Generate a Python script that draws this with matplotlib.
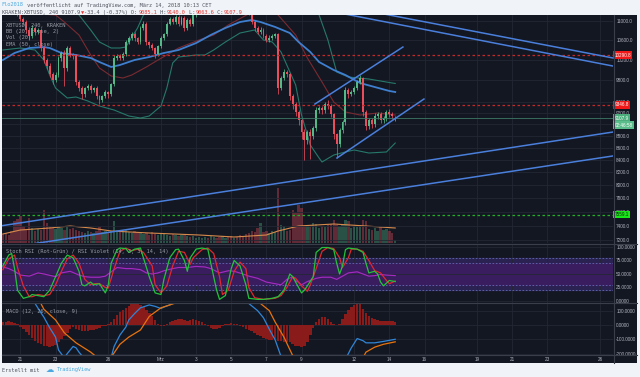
import numpy as np
import matplotlib
matplotlib.use("Agg")
import matplotlib.pyplot as plt
from matplotlib.transforms import blended_transform_factory
from matplotlib.patches import Rectangle
from matplotlib.lines import Line2D
from matplotlib.ticker import NullLocator, FixedLocator, FixedFormatter

# ---------------------------------------------------------------- data
first_time = "2018-02-20T00:00"          # first 4h candle
first_open = 11600
last_open = 9085.1
closes = [
    11520, 11450, 11380, 11300, 11240, 11150, 11037, 10972, 10802, 10675,
    10843, 10759, 10802, 10428, 10190, 10070, 9915, 9802, 9896, 10228,
    10328, 10031, 10428, 10288, 10268, 9763, 9650, 9538, 9650, 9688,
    9613, 9650, 9501, 9428, 9501, 9575, 9538, 9725, 10228, 10268,
    10228, 10308, 10552, 10633, 10717, 10633, 10552, 10843, 10929, 10552,
    10490, 10428, 10308, 10470, 10633, 10717, 10929, 11037, 10972, 11080,
    10929, 11059, 10843, 11015, 10929, 11124, 11250, 11320, 11400, 11460,
    11390, 11480, 11540, 11470, 11420, 11500, 11580, 11530, 11450, 11490,
    11410, 11350, 11290, 11200, 11150, 10972, 10843, 10759, 10802, 10675,
    10594, 10633, 10675, 10717, 9650, 9838, 9955, 9915, 9501, 9355,
    9211, 9069, 8860, 8724, 8860, 8792, 8930, 9247, 9282, 9247,
    9355, 9318, 9175, 8826, 8656, 8895, 9034, 9613, 9538, 9575,
    9650, 9763, 9838, 9211, 8965, 9069, 9000, 9140, 9175, 9069,
    9106, 9211, 9175, 9141.3, 9107.9]
wick_up = [
    80, 60, 70, 60, 50, 60, 50, 40, 50, 60,
    60, 50, 40, 40, 50, 40, 60, 40, 60, 50,
    40, 60, 50, 40, 40, 50, 40, 40, 30, 40,
    40, 30, 40, 30, 30, 40, 30, 30, 60, 40,
    50, 40, 50, 40, 40, 40, 30, 40, 60, 40,
    30, 40, 30, 30, 40, 30, 40, 40, 40, 30,
    40, 40, 30, 40, 40, 40, 50, 50, 40, 40,
    40, 40, 50, 40, 50, 50, 40, 40, 50, 40,
    40, 40, 40, 40, 60, 40, 50, 40, 60, 40,
    40, 60, 40, 30, 20, 40, 70, 40, 30, 40,
    50, 40, 30, 60, 40, 60, 40, 60, 40, 50,
    50, 80, 40, 30, 20, 40, 40, 60, 50, 40,
    50, 40, 60, 30, 40, 50, 50, 60, 40, 40,
    40, 50, 60, 40, 32.1]
wick_dn = [
    60, 60, 50, 50, 60, 60, 50, 60, 60, 80,
    40, 60, 40, 60, 60, 50, 60, 80, 40, 40,
    50, 330, 60, 40, 60, 60, 60, 80, 50, 40,
    60, 40, 50, 60, 40, 40, 60, 40, 40, 40,
    40, 40, 40, 30, 40, 50, 40, 30, 40, 60,
    50, 40, 80, 40, 30, 40, 40, 30, 40, 40,
    40, 30, 60, 40, 50, 40, 40, 40, 50, 40,
    40, 40, 40, 40, 40, 50, 40, 40, 40, 40,
    40, 40, 40, 50, 40, 40, 60, 40, 40, 50,
    40, 40, 40, 40, 100, 40, 40, 60, 60, 80,
    60, 80, 120, 320, 60, 380, 40, 40, 50, 60,
    40, 40, 50, 80, 230, 40, 40, 40, 60, 40,
    40, 40, 40, 60, 70, 50, 60, 40, 40, 50,
    40, 40, 50, 40, 21.5]
volumes = [
    900, 1000, 800, 1200, 2200, 2400, 2700, 1700, 1300, 2500,
    1500, 1200, 1400, 1300, 3300, 2000, 1600, 1500, 1400, 1700,
    1500, 1300, 1600, 1400, 1500, 1300, 1200, 1100, 1000, 1200,
    1100, 1000, 1200, 1600, 1100, 1200, 1000, 1200, 2200, 1300,
    1100, 1200, 1300, 1100, 1000, 1200, 1100, 1000, 900, 1000,
    800, 1100, 900, 800, 1000, 900, 800, 700, 900, 800,
    700, 800, 900, 700, 600, 700, 500, 600, 500, 600,
    500, 700, 600, 500, 600, 700, 500, 600, 700, 500,
    600, 800, 700, 900, 1000, 1200, 1100, 1500, 2000, 1100,
    1200, 1000, 1200, 1100, 5500, 1800, 1700, 1200, 1300, 3300,
    3000, 3800, 3500, 1700, 1800, 1600, 2000, 1900, 1500, 1700,
    1600, 1800, 1900, 2300, 1800, 1700, 1800, 2300, 2200, 1500,
    1700, 1600, 1800, 2300, 2200, 1400, 1300, 1500, 1200, 1600,
    1300, 1400, 1200, 1000, 300]
macd_hist = [
    20, 22, 25, 20, 15, 5, -15, -30, -50, -70,
    -90, -110, -125, -135, -145, -150, -155, -150, -140, -120,
    -100, -80, -55, -30, -15, -25, -35, -40, -42, -40,
    -38, -35, -30, -20, -10, -5, 5, 20, 45, 70,
    90, 105, 120, 135, 145, 150, 150, 140, 125, 105,
    85, 60, 35, 10, -8, -10, 5, 20, 30, 38,
    42, 40, 35, 30, 35, 40, 38, 30, 20, 5,
    -10, -20, -28, -30, -22, -10, 5, 10, 12, 10,
    5, -5, -15, -25, -35, -45, -55, -70, -80, -90,
    -100, -105, -105, -100, -110, -115, -120, -118, -120, -130,
    -145, -150, -155, -150, -120, -70, -20, 20, 40, 55,
    55, 40, 20, 5, 2, 10, 40, 80, 105, 125,
    140, 150, 145, 115, 85, 65, 50, 40, 35, 30,
    28, 28, 30, 28, 22]

# indicator lines (candle index, value)
bb_up_idx = [0, 10, 20, 26, 30, 33, 37, 40, 42, 46, 48, 55, 65, 75, 85, 95, 102, 108, 111, 114, 118, 125, 133, 134]
bb_up_val = [12100, 11950, 11600, 11119, 10801, 10553, 10431, 10431, 10451, 10842, 11119, 11500, 11700, 11800,
             11750, 11600, 11400, 11119, 10594, 9958, 9862, 9824, 9748, 9740]
bb_mid_idx = [0, 10, 18, 21, 26, 30, 33, 37, 41, 44, 49, 53, 56, 60, 67, 72, 77, 82, 85, 90, 94, 100, 104,
              109, 113, 117, 122, 128, 134]
bb_mid_val = [11245, 11150, 11119, 10969, 10697, 10291, 10035, 9881, 9843, 9900, 10055, 10192, 10291, 10431,
              10594, 10697, 10906, 11076, 11180, 11250, 11119, 10697, 10231, 9767, 9397, 9217, 9163, 9199, 9163]
bb_lo_idx = [0, 6, 11, 14, 16, 18, 22, 25, 29, 33, 38, 43, 47, 50, 54, 56, 58, 60, 66, 69, 72, 76, 81, 86, 89,
             92, 95, 100, 102, 105, 108, 109, 113, 117, 120, 125, 131, 134]
bb_lo_val = [10391, 10431, 10391, 10192, 9900, 9654, 9470, 9488, 9415, 9324, 9252, 9146, 9110, 9146, 9324, 9654,
             10133, 10251, 10291, 10291, 10391, 10553, 10738, 10801, 10594, 10553, 10351, 9711, 9163, 8647,
             8432, 8367, 8481, 8531, 8564, 8514, 8531, 8680]
ema_idx = [0, 4, 9, 14, 16, 20, 25, 30, 33, 37, 40, 45, 50, 55, 60, 66, 71, 76, 81, 85, 88, 93, 98, 101, 105,
           108, 113, 117, 122, 127, 132, 134]
ema_val = [10192, 10331, 10431, 10451, 10431, 10331, 10291, 10231, 10152, 10055, 10094, 10192, 10251, 10331,
           10391, 10532, 10697, 10843, 10969, 11012, 10969, 10864, 10738, 10553, 10351, 10152, 9997, 9900,
           9748, 9673, 9599, 9580]
volma_idx = [0, 6, 16, 23, 30, 37, 50, 67, 79, 90, 94, 101, 107, 113, 124, 134]
volma_val = [900, 1300, 1500, 1700, 1500, 1200, 1000, 800, 600, 800, 1200, 1700, 1800, 1900, 1700, 1500]

stk_idx = [0, 2, 3, 4, 5, 7, 9, 10, 12, 14, 16, 18, 20, 22, 24, 26, 27, 28, 30, 31, 33, 35, 36, 37, 39, 40,
           42, 43, 45, 47, 48, 50, 52, 54, 55, 57, 59, 60, 62, 63, 64, 66, 68, 70, 71, 73, 74, 76, 78, 79,
           81, 83, 84, 87, 89, 92, 94, 96, 97, 98, 99, 100, 102, 103, 104, 106, 107, 109, 111, 113, 114,
           115, 116, 117, 118, 121, 123, 124, 125, 127, 128, 129, 130, 132, 133, 134]
stk_val = [65, 85, 88, 60, 20, 5, 8, 12, 10, 8, 20, 45, 70, 85, 80, 55, 30, 28, 35, 30, 32, 15, 30, 70, 95,
           98, 97, 90, 96, 98, 80, 45, 15, 12, 40, 80, 95, 96, 75, 55, 80, 96, 98, 96, 70, 20, 3, 10, 60,
           75, 65, 30, 5, 3, 3, 5, 8, 20, 35, 50, 45, 35, 15, 20, 28, 45, 90, 99, 99, 95, 70, 50, 65, 95,
           98, 96, 90, 70, 52, 55, 50, 35, 28, 38, 37, 36]
std_idx = [0, 2, 4, 5, 7, 9, 10, 12, 14, 16, 18, 20, 22, 24, 26, 28, 30, 31, 33, 35, 36, 38, 40, 42, 44, 46,
           48, 51, 52, 54, 56, 58, 60, 62, 64, 65, 68, 70, 72, 74, 75, 77, 79, 81, 83, 84, 86, 89, 93, 95,
           97, 99, 100, 102, 104, 105, 107, 109, 111, 113, 115, 116, 118, 119, 121, 123, 125, 127, 129,
           131, 132, 134]
std_val = [58, 78, 85, 62, 28, 8, 8, 12, 10, 12, 30, 55, 78, 85, 70, 40, 30, 32, 32, 25, 24, 60, 92, 98, 93,
           96, 90, 65, 30, 15, 28, 65, 92, 90, 68, 80, 95, 98, 88, 45, 12, 20, 55, 72, 60, 25, 6, 3, 5, 10,
           25, 45, 42, 28, 18, 30, 60, 92, 99, 97, 80, 62, 80, 96, 96, 92, 75, 56, 52, 38, 32, 37]
rsi_idx = [0, 2, 4, 6, 9, 12, 14, 18, 20, 23, 26, 28, 30, 33, 35, 38, 39, 42, 44, 47, 49, 51, 53, 55, 58, 60,
           63, 66, 69, 71, 74, 77, 79, 82, 84, 87, 90, 93, 95, 97, 99, 100, 102, 104, 107, 109, 112, 114,
           116, 118, 121, 123, 125, 127, 129, 131, 134]
rsi_val = [63, 60, 55, 48, 46, 52, 50, 45, 52, 55, 48, 45, 44, 44, 46, 58, 62, 60, 60, 58, 52, 50, 52, 56,
           60, 62, 62, 64, 63, 60, 52, 56, 55, 50, 46, 42, 35, 32, 30, 40, 45, 38, 30, 36, 42, 44, 44, 40,
           46, 52, 54, 50, 46, 47, 49, 48, 47]
macd_idx = [0, 6, 9, 11, 13, 14, 16, 18, 19, 21, 22, 24, 25, 26, 28, 31, 35, 37, 38, 40, 42, 43, 45, 47, 50,
            52, 54, 55, 57, 59, 62, 67, 74, 79, 83, 84, 87, 89, 91, 93, 95, 98, 101, 105, 108, 112, 115,
            117, 119, 121, 123, 124, 127, 130, 134]
macd_val = [300, 260, 210, 150, 85, 55, -20, -85, -175, -230, -200, -150, -160, -190, -240, -270, -260, -225,
            -150, -70, -15, 35, 80, 120, 140, 130, 115, 125, 140, 160, 200, 240, 260, 250, 200, 150, 100, 50,
            -30, -105, -220, -350, -450, -470, -430, -380, -320, -240, -160, -95, -110, -125, -125, -115, -100]
sig_idx = [0, 12, 13, 14, 18, 21, 25, 30, 33, 37, 40, 43, 47, 50, 54, 57, 60, 66, 72, 79, 84, 88, 91, 93,
           96, 99, 102, 107, 112, 117, 120, 123, 124, 127, 130, 134]
sig_val = [250, 180, 150, 110, 35, -55, -125, -190, -240, -225, -135, -85, -35, 60, 120, 140, 160, 210, 245,
           255, 230, 150, 100, 20, -85, -215, -300, -400, -420, -380, -300, -230, -190, -155, -135, -118]

# chart drawings and levels
level_red = [10290.8, 9346.8]
level_green = 7559.1
last_price = 9107.9
countdown = "02:46:58"
trend_lines = [  # (start time, start price, end time, end price)
    ("2018-03-11T04:30", 11160, "2018-03-27T03:00", 10047),
    ("2018-03-13T11:00", 11157, "2018-03-27T03:00", 10205),
    ("2018-03-09T18:20", 9360, "2018-03-14T18:30", 10451),
    ("2018-03-11T00:25", 8432, "2018-03-15T23:15", 9451),
    ("2018-02-19T20:00", 7393, "2018-03-27T03:00", 8885),
    ("2018-02-21T11:00", 7133, "2018-03-27T03:00", 8483),
]
price_ticks = [11000, 10600, 10200, 9800, 9400, 9200, 9000, 8800, 8600, 8400, 8200, 8000, 7800, 7600, 7400, 7200]
hidden_price_labels = [9000]            # covered by the countdown label in the reference
stoch_ticks = [0, 25, 50, 75, 100]
macd_ticks = [-200, -100, 0, 100]
date_ticks = ["2018-02-21", "2018-02-23", "2018-02-26", "2018-03-01", "2018-03-03", "2018-03-05",
              "2018-03-07", "2018-03-09", "2018-03-12", "2018-03-14", "2018-03-16", "2018-03-19",
              "2018-03-21", "2018-03-23", "2018-03-26"]
date_labels = ["21", "23", "26", "Mrz", "3", "5", "7", "9", "12", "14", "16", "19", "21", "23", "26"]

# ---------------------------------------------------------------- styling
plt.rcParams['font.family'] = ['DejaVu Sans Mono', 'DejaVu Sans']
W, H = 640, 377
BG = '#131722'
GRID = '#232733'
SEP = '#3a3e4a'
TXT = '#b2b5be'
UP, DN = '#53b987', '#eb4d5c'
AXFONT = ['Liberation Sans', 'DejaVu Sans']
FS_AX = 3.3
FS_TX = 3.8

fig = plt.figure(figsize=(W / 100, H / 100), dpi=100)
fig.patch.set_facecolor('#f0f3f7')


def rect(x0, y0, x1, y1):
    return [x0 / W, 1 - y1 / H, (x1 - x0) / W, (y1 - y0) / H]


fig.add_artist(Rectangle((2 / W, 1 - 363 / H), 635 / W, 348 / H, transform=fig.transFigure,
                         facecolor=BG, edgecolor='none', zorder=-5))

t = np.datetime64(first_time) + np.arange(len(closes)) * np.timedelta64(4, 'h')
c = np.array(closes, dtype=float)
o = np.concatenate([[first_open], c[:-1]])
o[-1] = last_open
hi = np.maximum(o, c) + np.array(wick_up)
lo = np.minimum(o, c) - np.array(wick_dn)
up = c >= o
cols = np.where(up, UP, DN)
xlim = (np.datetime64("2018-02-19T22:50"), np.datetime64("2018-03-26T17:30"))
dticks = np.array(date_ticks, dtype='datetime64[m]')

ax_vol = fig.add_axes(rect(2, 15, 613, 243))
ax = fig.add_axes(rect(2, 15, 613, 243), sharex=ax_vol)
ax_st = fig.add_axes(rect(2, 244.5, 613, 303), sharex=ax_vol)
ax_md = fig.add_axes(rect(2, 303.5, 613, 355), sharex=ax_vol)

for a in (ax_vol, ax, ax_st, ax_md):
    for s in a.spines.values():
        s.set_visible(False)
    a.set_xlim(*xlim)
ax_vol.set_facecolor(BG)
ax.set_facecolor('none')
ax_st.set_facecolor(BG)
ax_md.set_facecolor(BG)

ax_md.set_xticks(dticks)
ax_md.set_xticklabels(date_labels, family=AXFONT)
for a in (ax_vol, ax, ax_st):
    a.tick_params(axis='x', labelbottom=False, length=0)
ax_md.tick_params(axis='x', length=0, labelsize=FS_AX, colors=TXT, pad=1.3)
for a in (ax_vol, ax_st, ax_md):
    a.grid(axis='x', color=GRID, lw=0.6)
    a.set_axisbelow(True)

# volume
ax_vol.bar(t, volumes, width=0.8 / 6, color=cols, alpha=0.36, linewidth=0)
ax_vol.plot(t[volma_idx], volma_val, color='#d68a4c', lw=0.8)
ax_vol.set_ylim(0, 22800)
ax_vol.set_yticks([])

# main price pane
ax.set_yscale('log')
ax.set_ylim(7153.9, 11118.6)
ax.yaxis.set_major_locator(FixedLocator(price_ticks))
ax.yaxis.set_major_formatter(FixedFormatter(
    ["" if p in hidden_price_labels else f"{p:.1f}" for p in price_ticks]))
ax.yaxis.set_minor_locator(NullLocator())
ax.yaxis.tick_right()
ax.tick_params(axis='y', length=0, pad=2.3, labelsize=FS_AX, labelcolor=TXT)
ax.grid(axis='y', color=GRID, lw=0.6)
ax.set_axisbelow(True)

ax.plot(t[bb_up_idx], bb_up_val, color='#26786b', lw=0.8, zorder=2)
ax.plot(t[bb_lo_idx], bb_lo_val, color='#26786b', lw=0.8, zorder=2)
ax.plot(t[bb_mid_idx], bb_mid_val, color='#7a2a31', lw=0.8, zorder=2)
ax.plot(t[ema_idx], ema_val, color='#3f7fd0', lw=1.3, zorder=2)

ax.vlines(t, lo, hi, colors=cols, lw=0.55, zorder=3)
ax.bar(t, np.maximum(np.abs(c - o), 10), bottom=np.minimum(o, c), width=0.65 / 6,
       color=cols, linewidth=0, zorder=3)

for lv in level_red:
    ax.axhline(lv, color='#c62828', lw=0.9, dashes=(2, 2), zorder=3.5)
ax.axhline(level_green, color='#22b322', lw=0.9, dashes=(2, 2), zorder=3.5)
ax.axhline(last_price, color='#3f7a66', lw=0.6, zorder=3.5)

for ts, ps, te, pe in trend_lines:
    ax.plot([np.datetime64(ts), np.datetime64(te)], [ps, pe], color='#4a7fdc', lw=1.1, zorder=4)

trans = blended_transform_factory(ax.transAxes, ax.transData)
xlab = (614.5 - 2) / 611


def plabel(price, text, fc, tc='white', dy=0.0):
    ax.annotate(text, xy=(xlab, price), xycoords=trans, xytext=(0, dy), textcoords='offset points',
                ha='left', va='center', fontsize=FS_AX, color=tc, annotation_clip=False, zorder=10,
                family=AXFONT, bbox=dict(boxstyle='square,pad=0.3', fc=fc, ec='none'))


plabel(level_red[0], f"{level_red[0]:.1f}", '#f01818')
plabel(level_red[1], f"{level_red[1]:.1f}", '#f01818')
plabel(last_price, f"{last_price:.1f}", '#4cae7c')
plabel(last_price, countdown, '#5bbd8b', dy=-5.2)
plabel(level_green, f"{level_green:.1f}", '#19e619', tc='#0b2a0b')

# stoch RSI / RSI pane
ax_st.set_ylim(-3.7, 104.6)
ax_st.axhspan(20, 80, color='#2a2352', zorder=0.5)
ax_st.axhspan(30, 70, color='#3a1d5e', zorder=0.6)
for lv in (0, 50, 100):
    ax_st.axhline(lv, color=GRID, lw=0.6, zorder=0.7)
for lv in (80, 70, 30, 20):
    ax_st.axhline(lv, color='#5f6db0', lw=0.6, dashes=(2, 2), zorder=0.8)
ax_st.plot(t[rsi_idx], rsi_val, color='#a52ac2', lw=0.85, zorder=2)
ax_st.plot(t[std_idx], std_val, color='#e0282e', lw=0.9, zorder=2.1)
ax_st.plot(t[stk_idx], stk_val, color='#24c23a', lw=0.9, zorder=2.2)
ax_st.set_yticks(stoch_ticks)
ax_st.set_yticklabels([f"{v:.4f}" for v in stoch_ticks])
ax_st.yaxis.tick_right()
ax_st.tick_params(axis='y', length=0, pad=2.3, labelsize=FS_AX, labelcolor=TXT)

# MACD pane
ax_md.set_ylim(-210, 150)
for lv in macd_ticks:
    ax_md.axhline(lv, color=GRID, lw=0.6, zorder=0.7)
ax_md.bar(t, macd_hist, width=0.85 / 6, color='#8a1b1b', linewidth=0, zorder=1.5)
ax_md.plot(t[macd_idx], macd_val, color='#2f86d8', lw=0.9, zorder=2)
ax_md.plot(t[sig_idx], sig_val, color='#e8730c', lw=0.9, zorder=2)
ax_md.set_yticks(macd_ticks)
ax_md.set_yticklabels([f"{v:.4f}" for v in macd_ticks])
ax_md.yaxis.tick_right()
ax_md.tick_params(axis='y', length=0, pad=2.3, labelsize=FS_AX, labelcolor=TXT)

for a in (ax, ax_st, ax_md):
    for lab in a.get_yticklabels():
        lab.set_family(AXFONT)

# separators
for y in (244.0, 303.3, 355.3):
    fig.add_artist(Line2D([2 / W, 637 / W], [1 - y / H, 1 - y / H], transform=fig.transFigure,
                          color=SEP, lw=0.8))
fig.add_artist(Line2D([613.5 / W, 613.5 / W], [1 - 15 / H, 1 - 363 / H], transform=fig.transFigure,
                      color=SEP, lw=0.8))


def segs(x0, y, parts, size=FS_TX):
    cw = 0.6021 * size * 100 / 72
    x = x0
    for s, col in parts:
        fig.text(x / W, 1 - y / H, s, color=col, fontsize=size, va='center', ha='left')
        x += len(s) * cw


DARK = '#50535e'
RED = '#e53935'
BLUE = '#4aa8e0'
segs(1.5, 5, [("Flo2018", BLUE), (" veröffentlicht auf TradingView.com, März 14, 2018 10:13 CET", DARK)])
segs(1.5, 12.5, [("KRAKEN:XBTUSD, 240 9107.9", DARK), ("▼", RED), ("-33.4 (-0.37%) O:", DARK),
                 ("9085.1", RED), (" H:", DARK), ("9140.0", RED), (" L:", DARK), ("9063.6", RED),
                 (" C:", DARK), ("9107.9", RED)])
LEG = '#9a9da6'
segs(6, 25, [("XBTUSD, 240, KRAKEN", LEG)])
segs(6, 31.5, [("BB (20, close, 2)", LEG)])
segs(6, 38, [("Vol (20)", LEG)])
segs(6, 44.5, [("EMA (50, close)", LEG)])
segs(6, 251, [("Stoch RSI (Rot-Grün) / RSI Violet (14, 3, 3, 14, 14)", LEG)])
segs(6, 312, [("MACD (12, 26, close, 9)", LEG)])
segs(2, 370, [("Erstellt mit", DARK)])
fig.text(46 / W, 1 - 370 / H, "☁", color=BLUE, fontsize=6, va='center', ha='left',
         family=['DejaVu Sans'])
segs(57, 370, [("TradingView", BLUE)])

fig.savefig("out.png", dpi=100, facecolor=fig.get_facecolor())
